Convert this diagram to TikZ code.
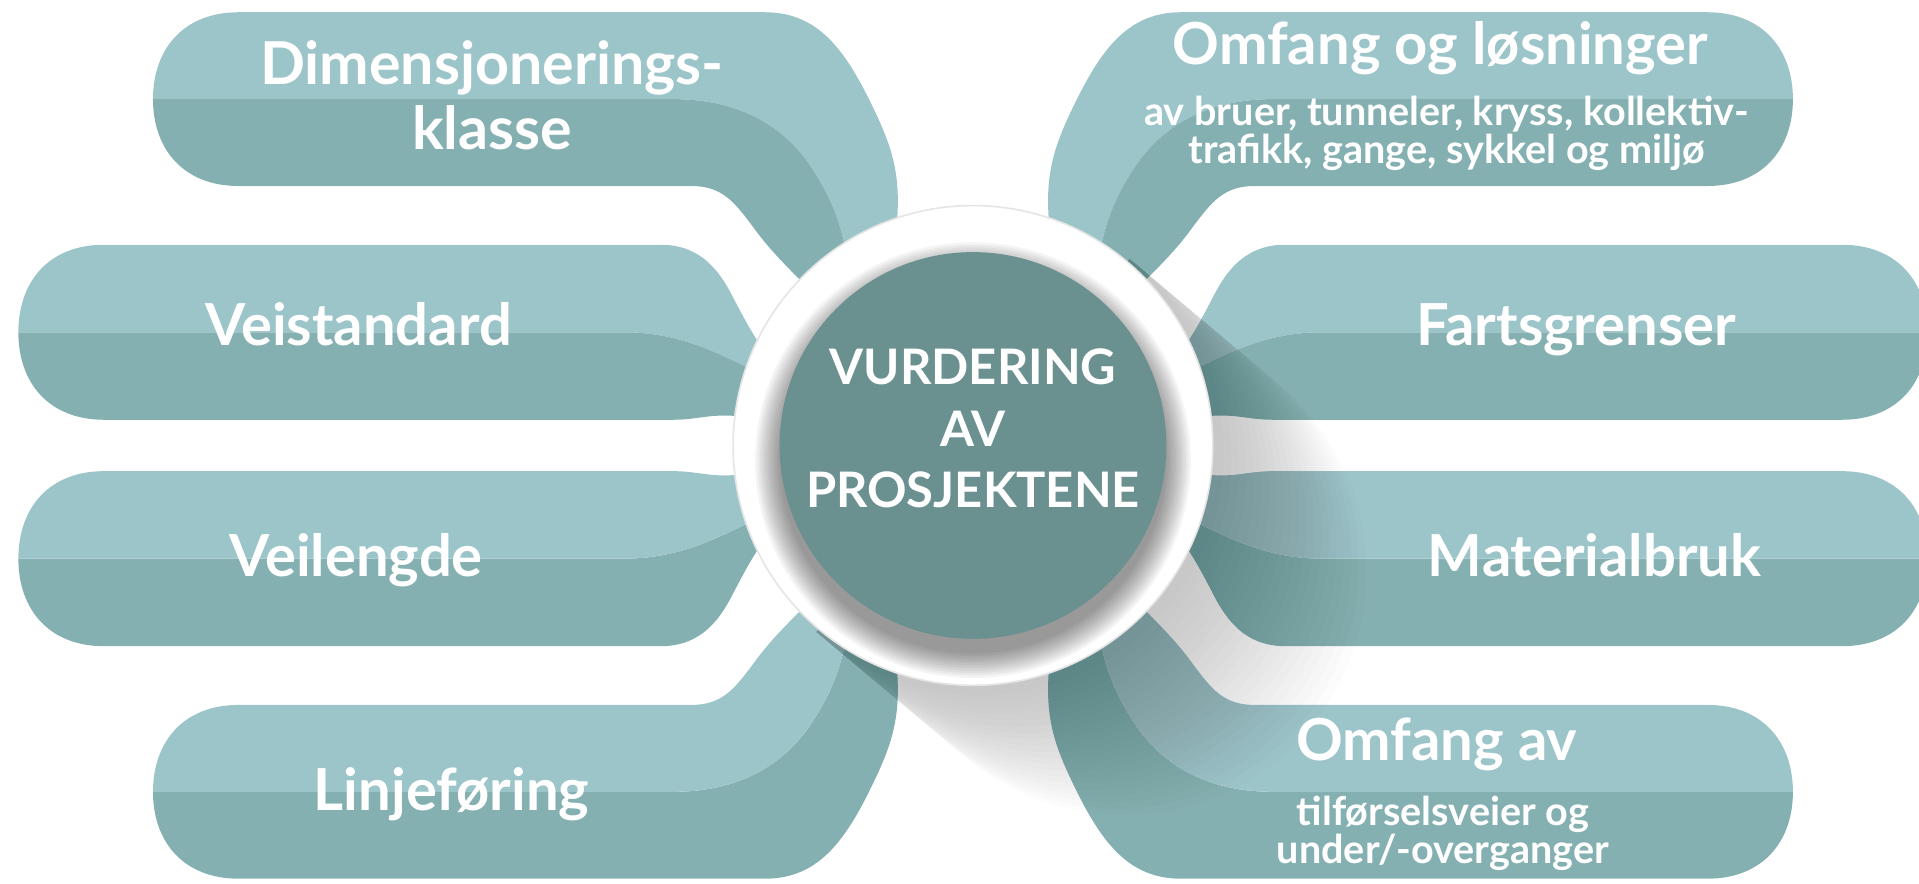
\documentclass[tikz,border=0pt]{standalone}
\usepackage{fontspec}
\setmainfont{Lato}
\usetikzlibrary{positioning}

\definecolor{lightteal}{RGB}{156,197,202}
\definecolor{darkteal}{RGB}{133,176,177}
\definecolor{coreteal}{RGB}{107,144,144}

% the two halves of an outer arm (top left) and of an inner arm (second from top)
\newcommand{\outerup}{(125,81) .. controls (125,40) and (150,10) .. (195,10) -- (625,10) .. controls (668,10) and (690,40) .. (712,85) .. controls (728,118) and (736,140) .. (733,180) -- (795,364) -- (690,200) .. controls (686,180) and (678,160) .. (665,140) .. controls (640,100) and (600,81) .. (550,81) -- cycle}
\newcommand{\outerlo}{(125,81) -- (550,81) .. controls (600,81) and (640,100) .. (665,140) .. controls (678,160) and (686,180) .. (690,200) -- (795,364) -- (660,235) .. controls (640,215) and (628,203) .. (615,185) .. controls (600,165) and (590,152) .. (565,152) -- (195,152) .. controls (150,152) and (125,122) .. (125,81) -- cycle}
\newcommand{\innerup}{(15,271.5) .. controls (15,230) and (40,200) .. (85,200) -- (540,200) .. controls (575,200) and (590,225) .. (600,245) .. controls (608,260) and (612,268) .. (620,280) -- (795,364) -- (610,300) .. controls (580,285) and (550,271.5) .. (510,271.5) -- cycle}
\newcommand{\innerlo}{(15,271.5) -- (510,271.5) .. controls (550,271.5) and (580,285) .. (610,300) -- (795,364) -- (602,340) .. controls (580,338) and (570,343) .. (550,343) -- (85,343) .. controls (40,343) and (15,313) .. (15,271.5) -- cycle}

\tikzset{
  armtext/.style={text=white, inner sep=0, align=center, font=\fontsize{14.2}{15.9}\selectfont\bfseries},
  subtext/.style={text=white, inner sep=0, align=center, font=\fontsize{9.7}{9.5}\selectfont\bfseries},
  coretext/.style={text=white, inner sep=0, align=center, font=\fontsize{12}{15.15}\selectfont\bfseries}
}

\begin{document}
\begin{tikzpicture}[x=0.3pt, y=-0.3pt]
\useasboundingbox (0,0) rectangle (1568,722);

% left arms
\fill[lightteal] \outerup;
\fill[darkteal] \outerlo;
\fill[lightteal] \innerup;
\fill[darkteal] \innerlo;
\begin{scope}[yshift=-218.4pt, yscale=-1]
  \fill[darkteal] \outerup;
  \fill[lightteal] \outerlo;
  \fill[darkteal] \innerup;
  \fill[lightteal] \innerlo;
\end{scope}

% right arms
\begin{scope}[xshift=477pt, xscale=-1]
  \fill[lightteal] \outerup;
  \fill[darkteal] \outerlo;
  \fill[lightteal] \innerup;
  \fill[darkteal] \innerlo;
\end{scope}
\begin{scope}[xshift=477pt, yshift=-218.4pt, xscale=-1, yscale=-1]
  \fill[darkteal] \outerup;
  \fill[lightteal] \outerlo;
  \fill[darkteal] \innerup;
  \fill[lightteal] \innerlo;
\end{scope}

% long shadow of the ring
\begin{scope}[shift={(795,364)}, rotate=-40]
  \foreach \s in {8,16,...,160}
    \fill[black, opacity=0.012] (0,-199) -- (\s,-199) arc[start angle=-90, end angle=90, radius=199] -- (0,199) -- cycle;
\end{scope}

% ring and core
\node[circle, fill=white, draw=black!10, line width=0.4pt, minimum size=117.6pt, inner sep=0] (ring) at (795,364) {};
\foreach \r in {158,160,...,178}
  \fill[black, opacity=0.045] (795,376) circle (\r);
\node[circle, fill=coreteal, minimum size=94.8pt, inner sep=0] (core) at (795,364) {};
\node[coretext] (title) at (795,350) {VURDERING\\AV\\PROSJEKTENE};

% texts on the arms
\node[armtext, font=\fontsize{14.5}{15.9}\selectfont\bfseries] (dim) at (402,78) {Dimensjonerings-\\klasse};
\node[armtext, anchor=base] (standard) at (293,282) {Veistandard};
\node[armtext, anchor=base] (lengde) at (291,471) {Veilengde};
\node[armtext, anchor=base] (linje) at (369,662) {Linjeføring};
\node[armtext, anchor=base] (losning) at (1177,53) {Omfang og løsninger};
\node[subtext] (losningsub) at (1182,109) {av bruer, tunneler, kryss, kollektiv-\\trafikk, gange, sykkel og miljø};
\node[armtext, anchor=base] (farts) at (1288,282) {Fartsgrenser};
\node[armtext, anchor=base] (material) at (1303,471) {Materialbruk};
\node[armtext, anchor=base] (tilforsel) at (1174,621) {Omfang av};
\node[subtext] (tilforselsub) at (1179,681) {tilførselsveier og\\under/-overganger};
\end{tikzpicture}
\end{document}
